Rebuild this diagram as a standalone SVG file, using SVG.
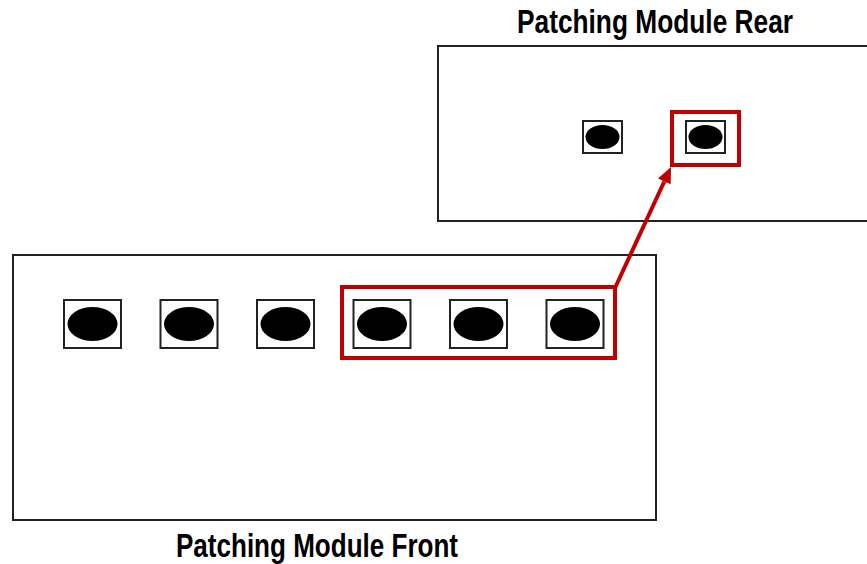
<svg xmlns="http://www.w3.org/2000/svg" width="867" height="564" viewBox="0 0 867 564">
<defs>
<style>
.panel{fill:#fff;stroke:#222;stroke-width:2}
.port{fill:#fff;stroke:#222;stroke-width:2}
.hole{fill:#000}
.hl{fill:none;stroke:#c00000;stroke-width:4}
.title{font-family:"Liberation Sans Narrow","Liberation Sans",Arial,sans-serif;font-weight:bold;fill:#000;text-anchor:middle}
</style>
<marker id="ah" markerWidth="16" markerHeight="14" refX="0" refY="7" orient="auto" markerUnits="userSpaceOnUse" viewBox="0 0 16 14">
<path d="M0,0 L16,7 L0,14 z" fill="#c00000"/>
</marker>
</defs>
<rect width="867" height="564" fill="#fff"/>
<g id="rear">
<rect class="panel" x="438" y="46" width="440" height="175"/>
<text class="title" x="655" y="32.5" font-size="32.5" textLength="276" lengthAdjust="spacingAndGlyphs">Patching Module Rear</text>
<g id="rear-port-1"><rect class="port" x="583" y="121" width="39" height="32"/><ellipse class="hole" cx="602.5" cy="137" rx="17" ry="12"/></g>
<g id="rear-port-2"><rect class="port" x="686" y="121" width="39" height="32"/><ellipse class="hole" cx="705.5" cy="137" rx="17" ry="12"/></g>
<rect id="rear-highlight" class="hl" x="672" y="112" width="67" height="53"/>
</g>
<g id="front">
<rect class="panel" x="13" y="255" width="643" height="265"/>
<text class="title" x="317" y="556.5" font-size="33" textLength="282" lengthAdjust="spacingAndGlyphs">Patching Module Front</text>
<g id="front-port-1"><rect class="port" x="64" y="300" width="57" height="48"/><ellipse class="hole" cx="92.5" cy="324" rx="25" ry="17"/></g>
<g id="front-port-2"><rect class="port" x="160.5" y="300" width="57" height="48"/><ellipse class="hole" cx="189" cy="324" rx="25" ry="17"/></g>
<g id="front-port-3"><rect class="port" x="257" y="300" width="57" height="48"/><ellipse class="hole" cx="285.5" cy="324" rx="25" ry="17"/></g>
<g id="front-port-4"><rect class="port" x="353.5" y="300" width="57" height="48"/><ellipse class="hole" cx="382" cy="324" rx="25" ry="17"/></g>
<g id="front-port-5"><rect class="port" x="450" y="300" width="57" height="48"/><ellipse class="hole" cx="478.5" cy="324" rx="25" ry="17"/></g>
<g id="front-port-6"><rect class="port" x="546.5" y="300" width="57" height="48"/><ellipse class="hole" cx="575" cy="324" rx="25" ry="17"/></g>
<rect id="front-highlight" class="hl" x="342" y="287" width="273" height="71"/>
</g>
<g id="connectors">
<line x1="615" y1="288" x2="664.3" y2="181.5" stroke="#c00000" stroke-width="4" marker-end="url(#ah)"/>
</g>
</svg>
